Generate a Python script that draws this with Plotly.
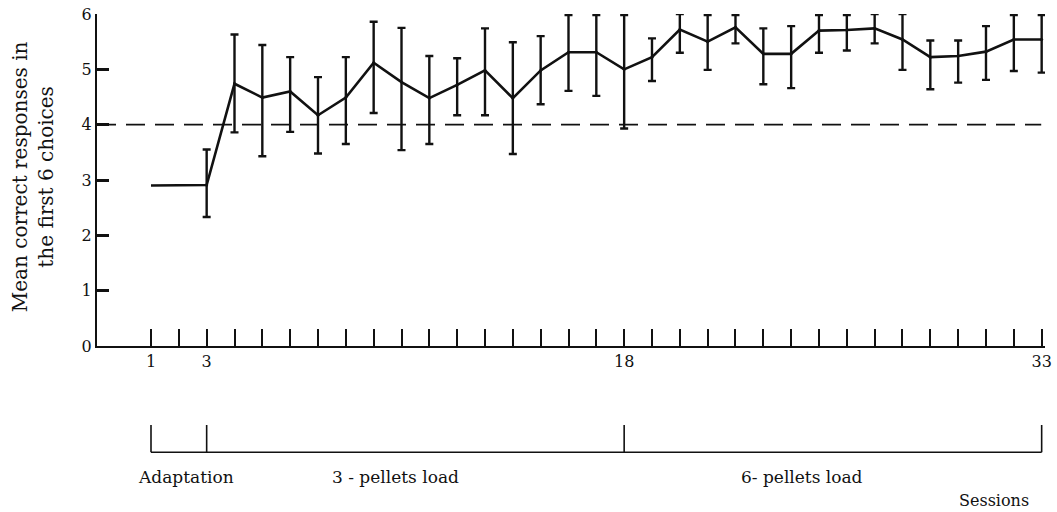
import plotly.graph_objects as go

sessions = list(range(1, 34))
mean_correct = [2.90, 2.90, 2.91, 4.74, 4.49, 4.60, 4.17, 4.49, 5.12, 4.77,
                4.48, 4.72, 4.98, 4.48, 4.98, 5.31, 5.31, 5.00, 5.22, 5.72,
                5.50, 5.76, 5.28, 5.28, 5.70, 5.71, 5.74, 5.54, 5.22, 5.24,
                5.32, 5.54, 5.54]
err_top = [None, None, 3.55, 5.63, 5.44, 5.22, 4.86, 5.22, 5.86, 5.75,
           5.24, 5.20, 5.74, 5.49, 5.60, 5.98, 5.98, 5.98, 5.56, 6.00,
           5.98, 5.98, 5.74, 5.78, 5.98, 5.98, 6.00, 6.00, 5.52, 5.52,
           5.78, 5.98, 5.98]
err_bottom = [None, None, 2.33, 3.86, 3.43, 3.87, 3.48, 3.65, 4.21, 3.54,
              3.65, 4.17, 4.17, 3.47, 4.37, 4.61, 4.52, 3.93, 4.79, 5.30,
              4.99, 5.47, 4.73, 4.66, 5.30, 5.34, 5.47, 4.99, 4.64, 4.76,
              4.81, 4.97, 4.94]
criterion = 4
x_labels = {1: "1", 3: "3", 18: "18", 33: "33"}
phase_bounds = [1, 3, 18, 33]
phase_names = ["Adaptation", "3 - pellets load", "6- pellets load"]
phase_label_x = [2.25, 9.8, 24.4]

ink = "#111111"
fam = "DejaVu Serif, Liberation Serif, serif"
font = dict(family=fam, size=17, color=ink)

eb_x = [s for s, t in zip(sessions, err_top) if t is not None]
eb_y = [m for m, t in zip(mean_correct, err_top) if t is not None]
eb_plus = [t - m for m, t in zip(mean_correct, err_top) if t is not None]
eb_minus = [m - b for m, b in zip(mean_correct, err_bottom) if b is not None]

fig = go.Figure()
fig.add_trace(go.Scatter(
    x=sessions, y=mean_correct, mode="lines",
    line=dict(color=ink, width=2.6), showlegend=False, cliponaxis=False))
fig.add_trace(go.Scatter(
    x=eb_x, y=eb_y, mode="markers",
    marker=dict(size=3, color=ink), showlegend=False, cliponaxis=False,
    error_y=dict(type="data", symmetric=False, array=eb_plus, arrayminus=eb_minus,
                 color=ink, thickness=2.4, width=4)))

# criterion dashed line
fig.add_shape(type="line", xref="paper", x0=0, x1=0.996, yref="y", y0=criterion, y1=criterion,
              line=dict(color=ink, width=1.8, dash="19px,10px"))

# phase bracket below axis
yb_top, yb_bot = -0.238, -0.320
fig.add_shape(type="line", xref="x", yref="paper", x0=phase_bounds[0], x1=phase_bounds[-1],
              y0=yb_bot, y1=yb_bot, line=dict(color=ink, width=1.6))
for b in phase_bounds:
    fig.add_shape(type="line", xref="x", yref="paper", x0=b, x1=b, y0=yb_bot, y1=yb_top,
                  line=dict(color=ink, width=1.6))
for name, xl in zip(phase_names, phase_label_x):
    fig.add_annotation(x=xl, xref="x", y=-0.395, yref="paper", text=name, showarrow=False,
                       font=font, xanchor="center", yanchor="middle")
fig.add_annotation(x=0.985, xref="paper", y=-0.466, yref="paper", text="Sessions",
                   showarrow=False, font=dict(family=fam, size=16, color=ink),
                   xanchor="right", yanchor="middle")

# y title
fig.add_annotation(x=-0.068, xref="paper", y=0.51, yref="paper",
                   text="Mean correct responses in<br>the first 6 choices",
                   textangle=-90, showarrow=False, font=dict(family=fam, size=20, color=ink),
                   xanchor="center", yanchor="middle")

tickfont = dict(family=fam, size=16, color=ink)
fig.update_xaxes(range=[-0.94, 33.12], showgrid=False, zeroline=False, automargin=False,
                 showline=True, linecolor=ink, linewidth=2.2,
                 ticks="inside", ticklen=17, tickwidth=2.4, tickcolor=ink,
                 tickvals=sessions, ticktext=[x_labels.get(s, "") for s in sessions],
                 tickfont=tickfont)
fig.update_yaxes(range=[0, 6], showgrid=False, zeroline=False, automargin=False,
                 showline=True, linecolor=ink, linewidth=2.2,
                 ticks="inside", ticklen=12, tickwidth=2.6, tickcolor=ink,
                 tickvals=[0, 1, 2, 3, 4, 5, 6], tickfont=tickfont)

fig.update_layout(width=1057, height=512, margin=dict(l=97, r=12, t=14, b=166),
                  plot_bgcolor="white", paper_bgcolor="white", font=font)

fig.write_html("out.html", config={"displayModeBar": False},
               post_script="document.body.style.margin='0';document.body.style.overflow='hidden';")
